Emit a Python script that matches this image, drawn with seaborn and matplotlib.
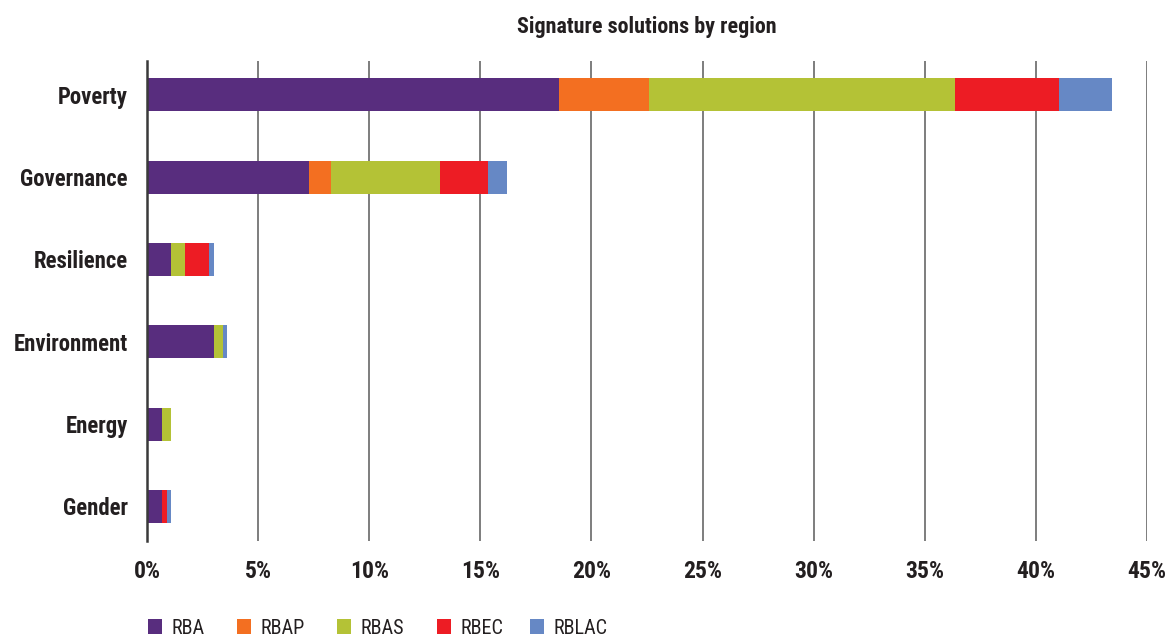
import matplotlib
matplotlib.use("Agg")
import matplotlib.pyplot as plt
from matplotlib import font_manager
from matplotlib.patches import Patch
from matplotlib.ticker import PercentFormatter
import pandas as pd
import seaborn as sns

# Share of signature solutions (%) by region
categories = ["Poverty", "Governance", "Resilience", "Environment", "Energy", "Gender"]
regions = ["RBA", "RBAP", "RBAS", "RBEC", "RBLAC"]
rba = [18.55, 7.27, 1.06, 3.00, 0.66, 0.66]
rbap = [4.03, 1.03, 0.00, 0.00, 0.00, 0.00]
rbas = [13.79, 4.90, 0.63, 0.40, 0.44, 0.00]
rbec = [4.67, 2.16, 1.08, 0.00, 0.00, 0.22]
rblac = [2.37, 0.85, 0.23, 0.22, 0.00, 0.22]
xticks = [0, 5, 10, 15, 20, 25, 30, 35, 40, 45]

colors = ["#582D7E", "#F36F21", "#B4C236", "#ED1C24", "#6688C5"]

sns.set_theme(style="white")

# prefer a narrow sans face; fall back to condensed DejaVu
available = {f.name for f in font_manager.fontManager.ttflist}
narrow = [n for n in ["Roboto Condensed", "Liberation Sans Narrow", "Open Sans Condensed",
                      "DejaVu Sans Condensed"] if n in available]
if narrow:
    plt.rcParams["font.family"] = [narrow[0], "DejaVu Sans"]
else:
    plt.rcParams["font.family"] = ["DejaVu Sans"]
    plt.rcParams["font.stretch"] = "condensed"
text_color = "#231F20"

df = pd.DataFrame({"category": categories, "RBA": rba, "RBAP": rbap,
                   "RBAS": rbas, "RBEC": rbec, "RBLAC": rblac})
cum = df[regions].cumsum(axis=1)

fig = plt.figure(figsize=(11.72, 6.4), dpi=100)
ax = fig.add_axes([0.1254, 0.1547, 0.8533, 0.75])

# stacked bars: draw running totals from the outermost segment inwards
for reg, col in reversed(list(zip(regions, colors))):
    sns.barplot(x=cum[reg], y=df["category"], orient="h", color=col,
                width=0.40, saturation=1, linewidth=0, ax=ax, zorder=3)

ax.set_xlim(0, 45)
ax.set_ylim(5.42, -0.41)
ax.set_xticks(xticks)
ax.xaxis.set_major_formatter(PercentFormatter(decimals=0))
ax.set_xlabel("")
ax.set_ylabel("")

for x in xticks[1:]:
    ax.axvline(x, color="#5a5a5a", lw=1.1, zorder=1)

for s in ["top", "right", "bottom"]:
    ax.spines[s].set_visible(False)
ax.spines["left"].set_color("#3a3a3a")
ax.spines["left"].set_linewidth(1.8)
ax.spines["left"].set_zorder(4)

ax.tick_params(axis="x", length=0, pad=14, labelsize=17, labelcolor=text_color)
ax.tick_params(axis="y", length=0, pad=14, labelsize=16.4, labelcolor=text_color)
for lab in ax.get_xticklabels() + ax.get_yticklabels():
    lab.set_fontweight("bold")

fig.text(0.552, 1 - 27 / 640, "Signature solutions by region", ha="center",
         va="center", fontsize=15.8, fontweight="bold", color=text_color)

# legend row: one single-entry legend per region, evenly laid out below the axis
legend_left = [148, 237, 337, 437, 530]
for reg, col, xl in zip(regions, colors, legend_left):
    leg = fig.legend(handles=[Patch(facecolor=col, edgecolor="none", label=reg)],
                     loc="center left", bbox_to_anchor=(xl / 1172, 1 - 628 / 640),
                     frameon=False, fontsize=14.5, handlelength=0.7, handleheight=0.7,
                     handletextpad=0.45, borderpad=0, borderaxespad=0,
                     labelcolor=text_color)

fig.savefig("out.png", dpi=100)
